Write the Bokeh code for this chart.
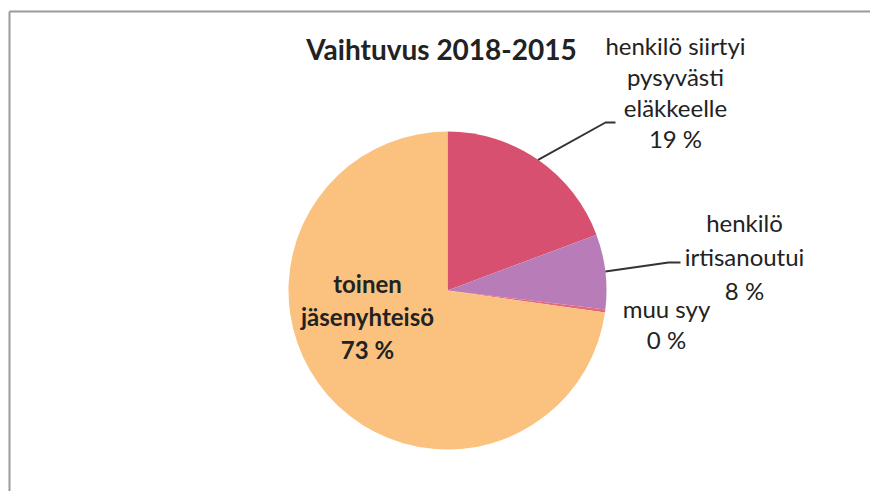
import numpy as np
from bokeh.plotting import figure
from bokeh.models import Range1d
from bokeh.core.properties import value
from bokeh.embed import file_html
from bokeh.resources import INLINE

# ---- data ----
categories = ["henkilö siirtyi pysyvästi eläkkeelle", "henkilö irtisanoutui", "muu syy", "toinen jäsenyhteisö"]
values = [19.3, 7.6, 0.3, 72.8]
colors = ["#D8506F", "#B87DB9", "#E4687A", "#FBC27F"]
label_lines = [
    ["henkilö siirtyi", "pysyvästi", "eläkkeelle"],
    ["henkilö", "irtisanoutui"],
    ["muu syy"],
    ["toinen", "jäsenyhteisö"],
]
title_text = "Vaihtuvus 2018-2015"

# ---- layout (screen pixels, origin at top-left of figure) ----
W, H = 870, 491
def Y(y_page):
    return H - y_page

cx, cy, r = 447, Y(290), 159
label_anchor = [(675, 45), (744, 222), (666, 308), (367, 283)]   # first-line centres
line_gap = [31, 34, 31, 33]
label_bold = [False, False, False, True]
leader_end = [[(605, 122), (615, 122)], [(668, 262), (680, 262)], None, None]

p = figure(width=W, height=H, output_backend="svg", toolbar_location=None,
           x_range=Range1d(0, W), y_range=Range1d(0, H),
           min_border=0, outline_line_color=None)
p.axis.visible = False
p.grid.visible = False
p.background_fill_color = "white"
p.border_fill_color = "white"

# frame lines
p.line([9, W], [Y(11), Y(11)], line_color="#9a9a9a", line_width=2)
p.line([9, 9], [Y(11), Y(H)], line_color="#9a9a9a", line_width=2)

vals = np.array(values, dtype=float)
frac = vals / vals.sum()
cum = np.concatenate([[0], np.cumsum(frac)])
starts = np.pi / 2 - 2 * np.pi * cum[:-1]
ends = np.pi / 2 - 2 * np.pi * cum[1:]
p.wedge(x=[cx] * len(vals), y=[cy] * len(vals), radius=r,
        start_angle=list(starts), end_angle=list(ends), direction="clock",
        fill_color=colors, line_color=None)

# leader lines
mids = (starts + ends) / 2
for i, pts in enumerate(leader_end):
    if pts is None:
        continue
    x0 = cx + r * np.cos(mids[i])
    y0 = cy + r * np.sin(mids[i])
    xs = [x0] + [q[0] for q in pts]
    ys = [y0] + [Y(q[1]) for q in pts]
    p.line(xs, ys, line_color="#333333", line_width=2)

# labels
pct = [f"{int(round(f * 100))} %" for f in frac]
for i, lines in enumerate(label_lines):
    all_lines = lines + [pct[i]]
    ax, ay = label_anchor[i]
    xs = [ax] * len(all_lines)
    ys = [Y(ay + k * line_gap[i]) for k in range(len(all_lines))]
    p.text(x=xs, y=ys, text=all_lines, text_align="center", text_baseline="middle",
           text_font=value("Lato"), text_font_size="24px",
           text_font_style="bold" if label_bold[i] else "normal",
           text_color="#222222")

# title
p.text(x=[441], y=[Y(48)], text=[title_text], text_align="center", text_baseline="middle",
       text_font=value("Lato"), text_font_size="28px", text_font_style="bold",
       text_color="#222222")

open("out.html", "w").write(file_html(p, INLINE))
